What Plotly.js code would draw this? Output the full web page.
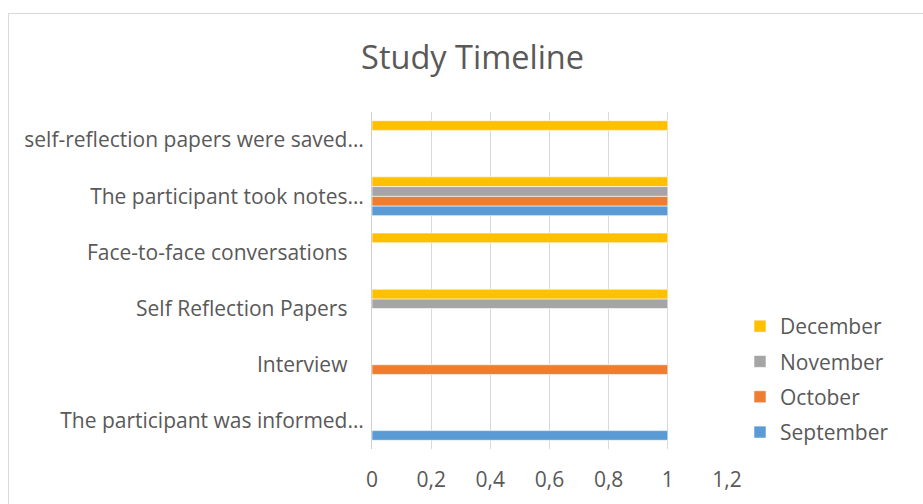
<!DOCTYPE html>
<html>
<head>
<meta charset="utf-8">
<script src="https://cdn.plot.ly/plotly-3.0.1.min.js"></script>
<style>
  html, body { margin: 0; padding: 0; background: #fff; overflow: hidden; }
  #chart { position: absolute; left: 0; top: 0; width: 923px; height: 504px; }
  #frame { position: absolute; left: 8px; top: 13px; width: 1000px; height: 600px;
           border: 1px solid #d9d9d9; pointer-events: none; box-sizing: border-box; }
</style>
</head>
<body>
<div id="chart"></div>
<div id="frame"></div>
<script>
const NB = '\u00a0\u00a0\u00a0';
const categories = [
  'The participant was informed…',
  'Interview' + NB,
  'Self Reflection Papers' + NB,
  'Face-to-face conversations' + NB,
  'The participant took notes…',
  'self-reflection papers were saved…'
];
const seriesNames = ['September', 'October', 'November', 'December'];
const september = [1, null, null, null, 1, null];
const october   = [null, 1, null, null, 1, null];
const november  = [null, null, 1, null, 1, null];
const december  = [null, null, 1, 1, 1, 1];
const xTicks = [0, 0.2, 0.4, 0.6, 0.8, 1, 1.2];
const colors = ['#5B9BD5', '#ED7D31', '#A5A5A5', '#FFC000'];
const values = [september, october, november, december];

const FONT = 'Open Sans, sans-serif';
const TXT = '#595959';

const traces = seriesNames.map((name, i) => ({
  type: 'bar',
  orientation: 'h',
  name: name,
  y: categories,
  x: values[i],
  legendgroup: name,
  legendrank: 10 - i,
  marker: { color: colors[i], line: { color: '#ffffff', width: 0.6 } },
  hoverinfo: 'x+name'
}));

const layout = {
  width: 923,
  height: 504,
  paper_bgcolor: '#ffffff',
  plot_bgcolor: '#ffffff',
  separators: ',.',
  margin: { l: 372, r: 196, t: 112, b: 55 },
  barmode: 'group',
  bargap: 0.31,
  bargroupgap: 0,
  font: { family: FONT, color: TXT, size: 21 },
  title: {
    text: 'Study Timeline',
    font: { family: FONT, size: 32.5, color: TXT },
    xref: 'container', yref: 'container',
    x: 0.512, xanchor: 'center',
    y: 0.885, yanchor: 'middle'
  },
  xaxis: {
    range: [0, 1.2001],
    tickvals: xTicks,
    showgrid: true,
    gridcolor: '#d9d9d9',
    gridwidth: 1,
    zeroline: false,
    showline: false,
    ticks: 'outside',
    ticklen: 12,
    tickcolor: 'rgba(0,0,0,0)',
    tickfont: { family: FONT, size: 21, color: TXT },
    fixedrange: true
  },
  yaxis: {
    type: 'category',
    showgrid: false,
    zeroline: false,
    showline: true,
    linecolor: '#d0d0d0',
    linewidth: 1,
    ticks: '',
    ticklabelstandoff: 3,
    tickfont: { family: FONT, size: 21, color: TXT },
    fixedrange: true
  },
  legend: {
    xref: 'container',
    x: 740 / 923,
    yref: 'container',
    y: 1 - 306 / 504,
    xanchor: 'left',
    yanchor: 'top',
    traceorder: 'grouped',
    tracegroupgap: 5,
    font: { family: FONT, size: 21, color: TXT },
    bgcolor: 'rgba(0,0,0,0)'
  },
  showlegend: true
};

Plotly.newPlot('chart', traces, layout, { displayModeBar: false, staticPlot: true });
</script>
</body>
</html>
